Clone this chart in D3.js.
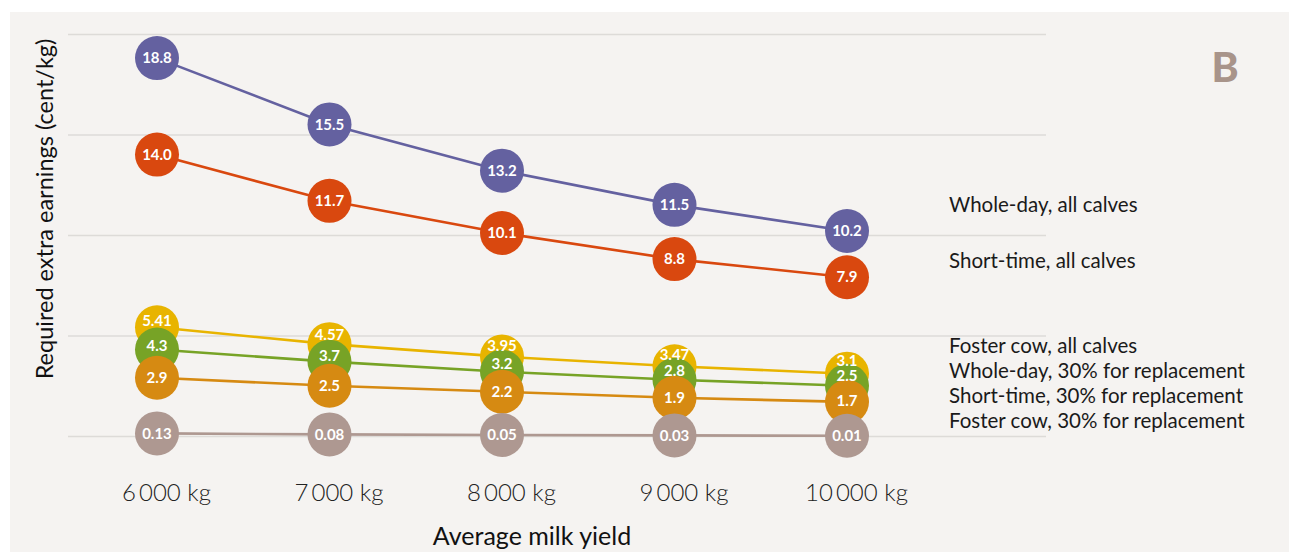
<!DOCTYPE html>
<html>
<head>
<meta charset="utf-8">
<script src="https://cdn.jsdelivr.net/npm/d3@7"></script>
<style>
  html, body { margin: 0; padding: 0; background: #ffffff; }
  svg { display: block; }
  text { font-family: "Source Sans Pro", Lato, "Open Sans", sans-serif; }
</style>
</head>
<body>
<script>
// ---------- data ----------
const categories = [6000, 7000, 8000, 9000, 10000];
const tickLabels = ["6\u2009000 kg", "7\u2009000 kg", "8\u2009000 kg", "9\u2009000 kg", "10\u2009000 kg"];
const seriesNames = [
  "Whole-day, all calves",
  "Short-time, all calves",
  "Foster cow, all calves",
  "Whole-day, 30% for replacement",
  "Short-time, 30% for replacement",
  "Foster cow, 30% for replacement"
];
const wholeDayAll   = [18.8, 15.5, 13.2, 11.5, 10.2];
const shortTimeAll  = [14.0, 11.7, 10.1, 8.8, 7.9];
const fosterAll     = [5.41, 4.57, 3.95, 3.47, 3.1];
const wholeDay30    = [4.3, 3.7, 3.2, 2.8, 2.5];
const shortTime30   = [2.9, 2.5, 2.2, 1.9, 1.7];
const foster30      = [0.13, 0.08, 0.05, 0.03, 0.01];
const valueLabels = [
  ["18.8", "15.5", "13.2", "11.5", "10.2"],
  ["14.0", "11.7", "10.1", "8.8", "7.9"],
  ["5.41", "4.57", "3.95", "3.47", "3.1"],
  ["4.3", "3.7", "3.2", "2.8", "2.5"],
  ["2.9", "2.5", "2.2", "1.9", "1.7"],
  ["0.13", "0.08", "0.05", "0.03", "0.01"]
];
const yTicks = [0, 5, 10, 15, 20];
const colors = ["#6461a0", "#d9480f", "#e8b400", "#77a326", "#d68a12", "#ae9891"];

const allSeries = [wholeDayAll, shortTimeAll, fosterAll, wholeDay30, shortTime30, foster30];

// ---------- layout ----------
const W = 1289, H = 552, R = 22;
const svg = d3.select("body").append("svg").attr("width", W).attr("height", H);

svg.append("rect").attr("x", 10).attr("y", 12).attr("width", W - 10).attr("height", H - 12)
  .attr("fill", "#f5f3f1");

const x = d3.scalePoint().domain(categories).range([157, 847]);
const y = d3.scaleLinear().domain([0, 20]).range([436, 34]);

// gridlines via axis
const gridAxis = d3.axisLeft(y).tickValues(yTicks).tickSize(-(1046 - 68)).tickFormat("");
const grid = svg.append("g").attr("transform", "translate(68,0)").call(gridAxis);
grid.select(".domain").remove();
grid.selectAll(".tick line").attr("stroke", "#dddbd8").attr("stroke-width", 1.6);

// x axis labels
const xAxis = d3.axisBottom(x).tickSize(0).tickPadding(0)
  .tickFormat((d, i) => tickLabels[i]);
const xg = svg.append("g").attr("transform", "translate(0,501)").call(xAxis);
xg.select(".domain").remove();
xg.selectAll(".tick text")
  .attr("dy", 0).attr("dx", 9)
  .attr("font-size", 24).attr("font-weight", 300).attr("fill", "#222")
  .style("font-family", '"Source Sans Pro", Lato, "Open Sans", sans-serif');

// axis titles
svg.append("text").attr("x", 532).attr("y", 545).attr("text-anchor", "middle")
  .attr("font-size", 25).attr("fill", "#111").text("Average milk yield");
svg.append("text").attr("transform", "translate(53,209) rotate(-90)").attr("text-anchor", "middle")
  .attr("font-size", 23.5).attr("fill", "#111").text("Required extra earnings (cent/kg)");

// panel letter
svg.append("text").attr("x", 1225).attr("y", 82).attr("text-anchor", "middle")
  .attr("font-size", 41).attr("font-weight", 900).attr("fill", "#a8948a").text("B");

// series lines and circles
const line = d3.line().x((d, i) => x(categories[i])).y(d => y(d));
allSeries.forEach((vals, s) => {
  const g = svg.append("g");
  g.append("path").datum(vals).attr("d", line).attr("fill", "none")
    .attr("stroke", colors[s]).attr("stroke-width", 2.6);
  g.selectAll("circle").data(vals).join("circle")
    .attr("cx", (d, i) => x(categories[i])).attr("cy", d => y(d)).attr("r", R)
    .attr("fill", colors[s]);
});

// value label positions: in the visible part of each circle, with minimum spacing
const labelY = allSeries.map(vals => vals.map(v => y(v)));
categories.forEach((c, i) => {
  for (let s = allSeries.length - 2; s >= 0; s--) {
    const cy = y(allSeries[s][i]);
    const cn = y(allSeries[s + 1][i]);
    let ly = cy;
    if (cn - cy < 2 * R) ly = Math.min(cy, (cy + cn) / 2 - R + 4);
    ly = Math.min(ly, labelY[s + 1][i] - 15.5);
    labelY[s][i] = ly;
  }
});
allSeries.forEach((vals, s) => {
  svg.append("g").selectAll("text").data(vals).join("text")
    .attr("x", (d, i) => x(categories[i]))
    .attr("y", (d, i) => labelY[s][i])
    .attr("dy", "0.35em").attr("text-anchor", "middle")
    .attr("font-size", 15).attr("font-weight", 700).attr("fill", "#ffffff")
    .text((d, i) => valueLabels[s][i]);
});

// series name labels at the right
const labelX = 949;
const bottomY = y(0) - 15;
const lineH = 25;
seriesNames.forEach((name, s) => {
  let cy;
  if (s < 2) {
    const last = allSeries[s][allSeries[s].length - 1];
    cy = y(last) - 20 - (s === 0 ? 6 : -4);
  } else {
    cy = bottomY - (seriesNames.length - 1 - s) * lineH;
  }
  svg.append("text").attr("x", labelX).attr("y", cy).attr("dy", "0.35em")
    .attr("font-size", 20.5).attr("fill", "#1a1a1a").text(name);
});
</script>
</body>
</html>
